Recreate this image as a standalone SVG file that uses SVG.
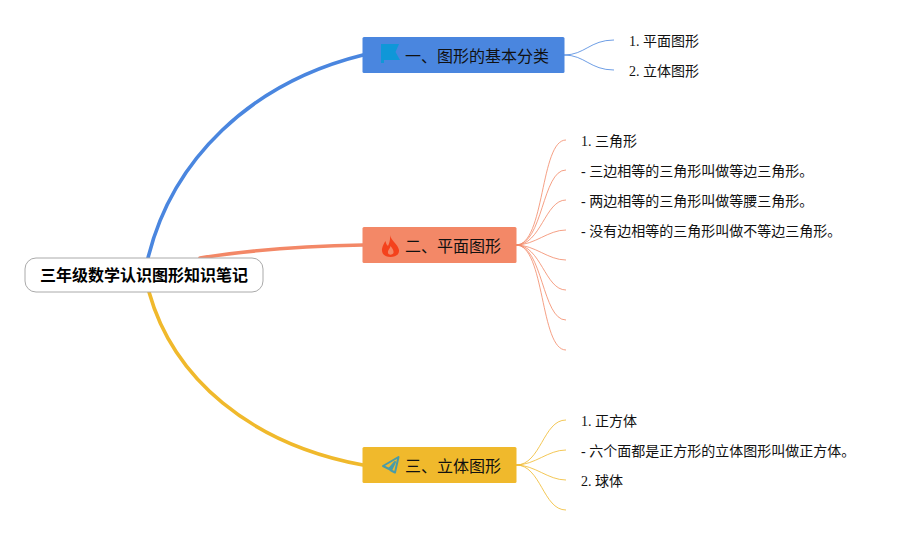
<svg xmlns="http://www.w3.org/2000/svg" width="916" height="535" viewBox="0 0 916 535">
<style>
text{font-family:"Liberation Serif","Noto Sans CJK SC",sans-serif;fill:#111}
.t{font-size:16px}
.l{font-size:14px}
.r{font-size:16px;font-weight:700;font-family:"Liberation Sans","Noto Sans CJK SC",sans-serif;fill:#000}
.c{fill:none}
.m{stroke-width:3.6;stroke-linecap:round}
.b{stroke:#4a86df}.o{stroke:#f38867}.y{stroke:#f0b92c}
.s{stroke-width:1;stroke-opacity:.8}
</style>
<rect width="916" height="535" fill="#fff"/>
<g id="connectors" class="c">
<path class="b m c" d="M148 258C172 160 250 83 363 55"/>
<path class="o m c" d="M200 258C250 250 300 246 363 245"/>
<path class="y m c" d="M149 292C173 378 250 444 363 465"/>
<g class="b s c"><path d="M564 55C585 55 590 40 614 40"/><path d="M564 55C585 55 590 70 614 70"/></g>
<g class="o s c">
<path d="M516 245C545 245 540 140 566 140"/>
<path d="M516 245C543 245 542 170 566 170"/>
<path d="M516 245C541 245 545 200 566 200"/>
<path d="M516 245C535 245 548 230 566 230"/>
<path d="M516 245C535 245 548 260 566 260"/>
<path d="M516 245C541 245 545 290 566 290"/>
<path d="M516 245C543 245 542 320 566 320"/>
<path d="M516 245C545 245 540 350 566 350"/>
</g>
<g class="y s c">
<path d="M516 465C541 465 543 420 566 420"/>
<path d="M516 465C535 465 548 450 566 450"/>
<path d="M516 465C535 465 548 480 566 480"/>
<path d="M516 465C541 465 543 510 566 510"/>
</g>
</g>
<g id="root">
<rect x="25" y="258" width="238" height="34" rx="11" fill="#fff" stroke="#aaa"/>
<text class="r" x="144" y="281" text-anchor="middle">三年级数学认识图形知识笔记</text>
</g>
<g id="node1">
<rect x="362.500" y="37" width="202" height="36" rx="1.500" fill="#4a86df"/>
<path d="M381 44H399L395.500 52L400 60H384V63H381Z" fill="#0f97d8"/>
<text class="t" x="405" y="62">一、图形的基本分类</text>
</g>
<g id="node2">
<rect x="362.500" y="227" width="154" height="36" rx="1.500" fill="#f38867"/>
<path d="M390 235C391 241 398 244 399 250C399.500 255 395 257 390.500 257C385 257 381.500 254 382 249C382.500 246 384 243 385.500 241C386 243 386.500 245 388 246C389.500 243 390.500 239 390 235Z" fill="#f4421c"/>
<path d="M390.500 246C390 249 387.500 250 388 253C388.500 255 392 255.500 393.500 253C394 250 392 248 390.500 246Z" fill="#f38867"/>
<text class="t" x="405" y="252">二、平面图形</text>
</g>
<g id="node3">
<rect x="362.500" y="447" width="154" height="36" rx="1.500" fill="#f0b92c"/>
<path d="M398.500 457L383 466L389 469L395 462L391 470.500L395 472.500ZM389 469L391 470.500" fill="none" stroke="#4a9ca8" stroke-width="2" stroke-linejoin="round"/>
<text class="t" x="405" y="472">三、立体图形</text>
</g>
<g id="leaves1">
<text class="l" x="629" y="46">1. 平面图形</text>
<text class="l" x="629" y="76">2. 立体图形</text>
</g>
<g id="leaves2">
<text class="l" x="581" y="146">1. 三角形</text>
<text class="l" x="581" y="176">- 三边相等的三角形叫做等边三角形。</text>
<text class="l" x="581" y="206">- 两边相等的三角形叫做等腰三角形。</text>
<text class="l" x="581" y="236">- 没有边相等的三角形叫做不等边三角形。</text>
</g>
<g id="leaves3">
<text class="l" x="581" y="426">1. 正方体</text>
<text class="l" x="581" y="456">- 六个面都是正方形的立体图形叫做正方体。</text>
<text class="l" x="581" y="486">2. 球体</text>
</g>
</svg>
